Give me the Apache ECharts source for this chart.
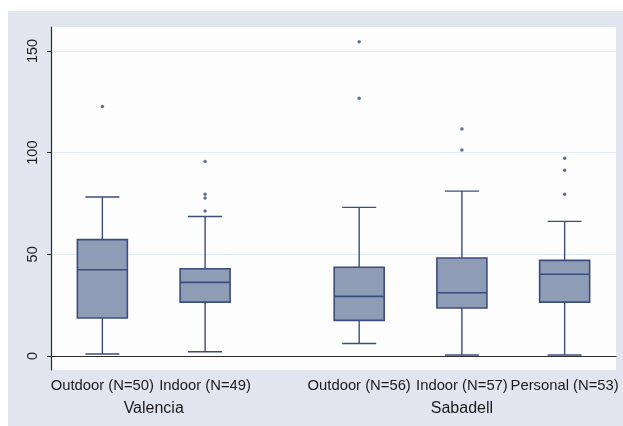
<!DOCTYPE html>
<html>
<head>
<meta charset="utf-8">
<script src="https://cdn.jsdelivr.net/npm/echarts@6/dist/echarts.min.js"></script>
<style>
  html, body { margin: 0; padding: 0; background: #ffffff; }
  #chart { width: 623px; height: 426px; }
</style>
</head>
<body>
<div id="chart"></div>
<script>
// Box positions on the x scale (a gap separates the two cities)
const positions = [1, 2, 3.5, 4.5, 5.5];
const categories = ['Outdoor (N=50)', 'Indoor (N=49)', 'Outdoor (N=56)', 'Indoor (N=57)', 'Personal (N=53)'];
const groupPositions = [1.5, 4.5];
const groups = ['Valencia', 'Sabadell'];

// Five-number summaries per box
const lowerWhisker = [1.0, 2.1, 6.1, 0.5, 0.5];
const q1 = [18.7, 26.5, 17.5, 23.6, 26.5];
const median = [42.4, 36.2, 29.3, 31.1, 40.2];
const q3 = [57.2, 42.9, 43.6, 48.2, 47.0];
const upperWhisker = [78.2, 68.6, 73.1, 81.1, 66.2];

// Outside values per box
const outliers = [
  [122.7],
  [95.7, 79.5, 77.7, 71.3],
  [154.5, 126.7],
  [111.6, 101.3],
  [97.3, 91.4, 79.5]
];

const yTicks = [0, 50, 100, 150];

const boxData = positions.map((x, i) => [x, lowerWhisker[i], q1[i], median[i], q3[i], upperWhisker[i]]);
const outlierData = [];
outliers.forEach((vals, i) => vals.forEach(v => outlierData.push([positions[i], v])));

const navy = '#3b4d7c';
const boxFill = '#8f9cb6';

function renderBox(params, api) {
  const x = api.value(0);
  const lo = api.coord([x, api.value(1)]);
  const b1 = api.coord([x, api.value(2)]);
  const md = api.coord([x, api.value(3)]);
  const b3 = api.coord([x, api.value(4)]);
  const hi = api.coord([x, api.value(5)]);
  const halfBox = 25, halfCap = 17;
  const cx = lo[0];
  const line = (x1, y1, x2, y2) => ({
    type: 'line',
    shape: { x1, y1, x2, y2 },
    style: { stroke: navy, lineWidth: 1.4 }
  });
  return {
    type: 'group',
    children: [
      line(cx, b3[1], cx, hi[1]),
      line(cx, b1[1], cx, lo[1]),
      line(cx - halfCap, hi[1], cx + halfCap, hi[1]),
      line(cx - halfCap, lo[1], cx + halfCap, lo[1]),
      {
        type: 'rect',
        shape: { x: cx - halfBox, y: b3[1], width: halfBox * 2, height: b1[1] - b3[1] },
        style: { fill: boxFill, stroke: navy, lineWidth: 1.6 }
      },
      {
        type: 'line',
        shape: { x1: cx - halfBox, y1: md[1], x2: cx + halfBox, y2: md[1] },
        style: { stroke: navy, lineWidth: 1.6 }
      }
    ]
  };
}

const labelFont = { color: '#1a1a1a', fontFamily: 'Liberation Sans' };

const chart = echarts.init(document.getElementById('chart'), null, { renderer: 'canvas' });
chart.setOption({
  backgroundColor: '#ffffff',
  animation: false,
  graphic: [{
    type: 'rect',
    z: -100,
    silent: true,
    shape: { x: 8, y: 11, width: 615, height: 415 },
    style: { fill: '#e0e5ef' }
  }],
  grid: {
    left: 51, top: 27, width: 565, height: 343,
    show: true, backgroundColor: '#fdfdfe', borderWidth: 0
  },
  xAxis: [{
    type: 'value',
    min: 0.5, max: 6,
    position: 'bottom',
    axisLine: { show: true, lineStyle: { color: '#2b2b2b', width: 1.2 } },
    axisTick: { show: false },
    splitLine: { show: false },
    axisLabel: {
      customValues: positions,
      formatter: v => categories[positions.indexOf(v)] || '',
      margin: 8,
      fontSize: 14.8,
      ...labelFont
    }
  }, {
    type: 'value',
    min: 0.5, max: 6,
    position: 'bottom',
    axisLine: { show: false },
    axisTick: { show: false },
    splitLine: { show: false },
    axisLabel: {
      customValues: groupPositions,
      formatter: v => groups[groupPositions.indexOf(v)] || '',
      margin: 31,
      fontSize: 16,
      ...labelFont
    }
  }],
  yAxis: {
    type: 'value',
    min: -6.9, max: 161.8,
    axisLine: { show: true, lineStyle: { color: '#2b2b2b', width: 1.2 } },
    axisTick: { show: true, customValues: yTicks, length: 4, lineStyle: { color: '#2b2b2b' } },
    splitLine: { show: true, lineStyle: { color: '#e4ebf4', width: 1.2 } },
    axisLabel: {
      customValues: yTicks,
      rotate: 90,
      margin: 11,
      fontSize: 14.5,
      ...labelFont
    }
  },
  series: [{
    type: 'custom',
    renderItem: renderBox,
    data: boxData,
    encode: { x: 0, y: [1, 2, 3, 4, 5] }
  }, {
    type: 'scatter',
    data: outlierData,
    symbol: 'circle',
    symbolSize: 3.5,
    itemStyle: { color: navy }
  }]
});
</script>
</body>
</html>
